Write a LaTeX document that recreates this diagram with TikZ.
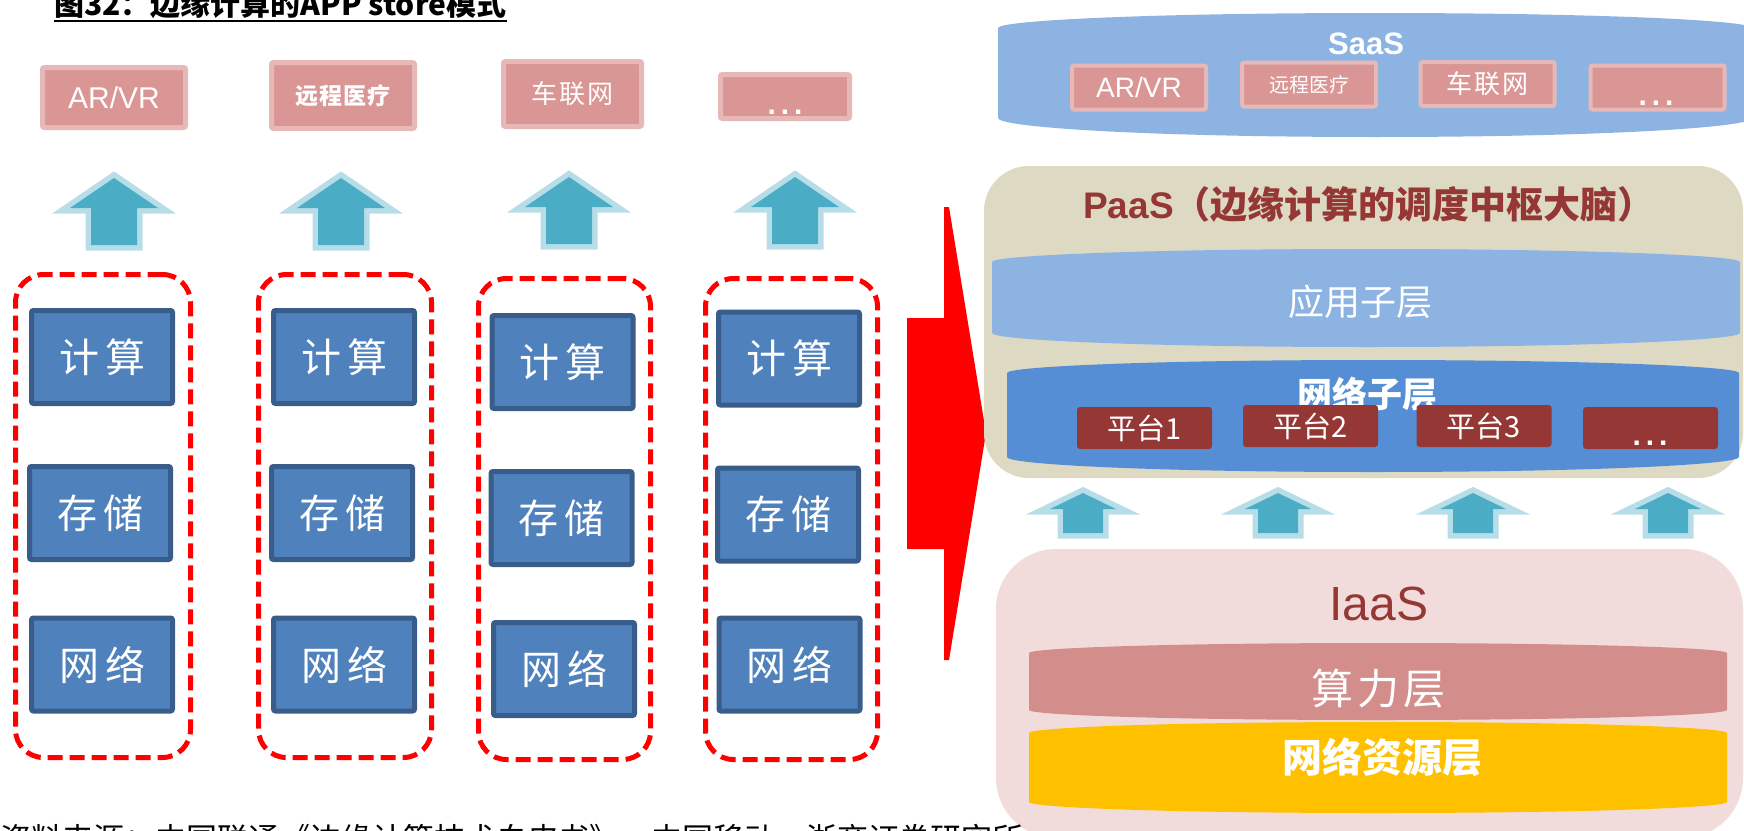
\documentclass[tikz,border=0pt]{standalone}
\usepackage{fontspec}
\setmainfont{Liberation Sans}
\newfontfamily\cjk{Noto Sans CJK SC}
\usetikzlibrary{calc}

\definecolor{appfill}{HTML}{D99694}
\definecolor{appedge}{HTML}{E6B9B8}
\definecolor{resfill}{HTML}{4F81BD}
\definecolor{resedge}{HTML}{385D8A}
\definecolor{uparrowfill}{HTML}{4BACC6}
\definecolor{uparrowedge}{HTML}{B7DEE8}
\definecolor{saasblue}{HTML}{8DB3E2}
\definecolor{paasbg}{HTML}{DDD9C3}
\definecolor{netblue}{HTML}{558ED5}
\definecolor{darkred}{HTML}{953735}
\definecolor{iaasbg}{HTML}{F2DCDB}
\definecolor{computered}{HTML}{D38D8B}
\definecolor{gold}{HTML}{FFC000}

\newcommand{\setfs}[1]{\fontsize{#1pt}{#1pt}\selectfont}
% spaced ellipsis used in the placeholder boxes
\newcommand{\spdots}{.\hspace{5pt}.\hspace{5pt}.}

% layer band with bulging top and bottom edges
% #1 colour, #2 left, #3 right, #4 top middle, #5 top corner, #6 bottom corner, #7 bottom middle
\newcommand{\layerband}[7]{%
  \pgfmathsetmacro{\bandmid}{(#2+#3)/2}%
  \pgfmathsetmacro{\bandxa}{#2+0.2*(#3-#2)}%
  \pgfmathsetmacro{\bandxb}{#3-0.2*(#3-#2)}%
  \pgfmathsetmacro{\bandya}{#5-0.5*(#5-#4)}%
  \pgfmathsetmacro{\bandyb}{#6+0.5*(#7-#6)}%
  \fill[#1] (#2,#6) -- (#2,#5) .. controls (#2,\bandya) and (\bandxa,#4) .. (\bandmid,#4)
    .. controls (\bandxb,#4) and (#3,\bandya) .. (#3,#5) -- (#3,#6)
    .. controls (#3,\bandyb) and (\bandxb,#7) .. (\bandmid,#7)
    .. controls (\bandxa,#7) and (#2,\bandyb) .. (#2,#6) -- cycle;}

% block up arrow: #1 centre x, #2 tip y, #3 wing y, #4 bottom y, #5 head half width, #6 shaft half width
\newcommand{\blockup}[6]{%
  \path[upa] (#1,#2) -- ({#1+#5},#3) -- ({#1+#6},#3) -- ({#1+#6},#4)
    -- ({#1-#6},#4) -- ({#1-#6},#3) -- ({#1-#5},#3) -- cycle;}

\tikzset{
  appbox/.style={fill=appfill, draw=appedge, line width=5pt, rounded corners=2pt,
    inner sep=0pt, text=white},
  sappbox/.style={fill=appfill, draw=appedge, line width=4pt, rounded corners=2pt,
    inner sep=0pt, text=white, minimum width=134pt, minimum height=44pt},
  resbox/.style={fill=resfill, draw=resedge, line width=5pt, rounded corners=2pt,
    inner sep=0pt, minimum width=141pt, minimum height=93pt, text=white,
    font=\cjk\setfs{40}},
  groupbox/.style={draw=red, line width=5pt, dash pattern=on 15pt off 7pt,
    rounded corners=28pt, inner sep=0pt},
  platbox/.style={fill=darkred, rounded corners=3pt, minimum width=135pt,
    minimum height=42pt, text=white, font=\cjk\setfs{29}, inner sep=0pt},
  upa/.style={fill=uparrowfill, preaction={draw=uparrowedge, line width=11pt, line join=miter}},
  dots/.style={text=white, font=\bfseries\setfs{30}, inner sep=0pt, anchor=base},
  lbl/.style={text=white, inner sep=0pt},
}

\begin{document}
\begin{tikzpicture}[x=1pt, y=-1pt]
\useasboundingbox (0,0) rectangle (1744,830);

% ---------- caption ----------
\node[anchor=base west, inner sep=0pt, font=\cjk\bfseries\setfs{30}] (title) at (54,15)
  {图32：边缘计算的APP store模式};
\draw[line width=2pt] ([yshift=-6pt]title.base west) -- ([yshift=-6pt]title.base east);

% ---------- left: applications ----------
\node[appbox, minimum width=143pt, minimum height=60pt, font=\setfs{30}] (appar) at (114,97.5) {AR/VR};
\node[appbox, minimum width=143pt, minimum height=66pt, font=\cjk\bfseries\setfs{23}] (appmed) at (343,95.5) {远\hspace{1pt}程\hspace{1pt}医\hspace{1pt}疗};
\node[appbox, minimum width=138pt, minimum height=65pt, font=\cjk\setfs{26}] (appcar) at (572.5,94) {车\hspace{2pt}联\hspace{2pt}网};
\node[appbox, minimum width=129pt, minimum height=44pt] (appmore) at (785,96.5) {};
\node[dots] (appmoredots) at (785,114) {\spdots};

% ---------- left: up arrows ----------
\blockup{114}{178}{208}{245}{44}{23}
\blockup{341}{178}{208}{245}{44}{23}
\blockup{569}{177}{207}{244}{44}{23}
\blockup{795}{177}{207}{244}{44}{23}

% ---------- left: resource groups ----------
\node[groupbox, minimum width=175pt, minimum height=483pt] (grp1) at (103,516) {};
\node[groupbox, minimum width=173pt, minimum height=483pt] (grp2) at (345,516) {};
\node[groupbox, minimum width=172pt, minimum height=481pt] (grp3) at (564.5,519) {};
\node[groupbox, minimum width=172pt, minimum height=481pt] (grp4) at (791.5,519) {};

\node[resbox] (c1) at (102,357) {计\hspace{6pt}算};
\node[resbox] (s1) at (100,513) {存\hspace{6pt}储};
\node[resbox] (n1) at (102,664.5) {网\hspace{6pt}络};
\node[resbox] (c2) at (344,357) {计\hspace{6pt}算};
\node[resbox] (s2) at (342,513) {存\hspace{6pt}储};
\node[resbox] (n2) at (344,664.5) {网\hspace{6pt}络};
\node[resbox] (c3) at (562.5,362) {计\hspace{6pt}算};
\node[resbox] (s3) at (561.5,518) {存\hspace{6pt}储};
\node[resbox] (n3) at (564,669) {网\hspace{6pt}络};
\node[resbox] (c4) at (789,358.5) {计\hspace{6pt}算};
\node[resbox] (s4) at (788,514.5) {存\hspace{6pt}储};
\node[resbox] (n4) at (789.5,664.5) {网\hspace{6pt}络};

% ---------- big red arrow ----------
\fill[red] (907,318) -- (944,318) -- (944,207) -- (949,207) -- (986,433)
  -- (949,660) -- (944,660) -- (944,549) -- (907,549) -- cycle;

% ---------- SaaS ----------
\layerband{saasblue}{998}{1752}{13}{28}{118}{137}
\node[lbl, font=\bfseries\setfs{31}] (saas) at (1366,44) {SaaS};
\node[sappbox, font=\setfs{28}] (sar) at (1139,87.5) {AR/VR};
\node[sappbox, font=\cjk\setfs{20}] (smed) at (1309,84.5) {远程医疗};
\node[sappbox, font=\cjk\setfs{26}] (scar) at (1487.5,84) {车\hspace{2pt}联\hspace{2pt}网};
\node[sappbox] (smore) at (1657.5,87.5) {};
\node[dots] (smoredots) at (1656,105) {\spdots};

% ---------- PaaS ----------
\node[fill=paasbg, rounded corners=45pt, minimum width=759pt, minimum height=312pt, inner sep=0pt]
  (paas) at (1363.5,322) {};
\node[text=darkred, inner sep=0pt] (paastitle) at (1369,204)
  {\bfseries\setfs{37}PaaS{\cjk\bfseries（边缘计算的调度中枢大脑）}};
\layerband{saasblue}{992}{1740}{249}{262}{333}{347}
\node[lbl, font=\cjk\setfs{36}] (appsub) at (1360,302) {应用子层};
\layerband{netblue}{1007}{1739}{360}{373}{457}{472}
\node[lbl, font=\cjk\bfseries\setfs{35}] (netsub) at (1367,394) {网络子层};
\node[platbox] (p1) at (1144.5,428) {平台1};
\node[platbox] (p2) at (1310.5,426) {平台2};
\node[platbox] (p3) at (1484,426) {平台3};
\node[platbox] (pmore) at (1650.5,428) {};
\node[dots] (pmoredots) at (1650,445) {\spdots};

% ---------- arrows between IaaS and PaaS ----------
\blockup{1083}{493}{509}{533}{33}{20}
\blockup{1278}{493}{509}{533}{33}{20}
\blockup{1473}{493}{509}{533}{33}{20}
\blockup{1668}{493}{509}{533}{33}{20}

% ---------- IaaS ----------
\node[fill=iaasbg, rounded corners=60pt, minimum width=747pt, minimum height=289pt, inner sep=0pt]
  (iaas) at (1369.5,693.5) {};
\node[text=darkred, inner sep=0pt, font=\setfs{48}] (iaastitle) at (1379,604) {IaaS};
\layerband{computered}{1029}{1727}{643}{653}{710}{720}
\node[lbl, font=\cjk\setfs{42}] (compute) at (1378,689) {算\hspace{4pt}力\hspace{4pt}层};
\layerband{gold}{1029}{1727}{722}{733}{802}{813}
\node[lbl, font=\cjk\bfseries\setfs{40}] (netres) at (1382,757) {网络资源层};

% ---------- source line ----------
\node[anchor=base west, inner sep=0pt, font=\cjk\setfs{31}] (source) at (0,850)
  {资料来源：中国联通《边缘计算技术白皮书》，中国移动，浙商证券研究所};
\end{tikzpicture}
\end{document}
